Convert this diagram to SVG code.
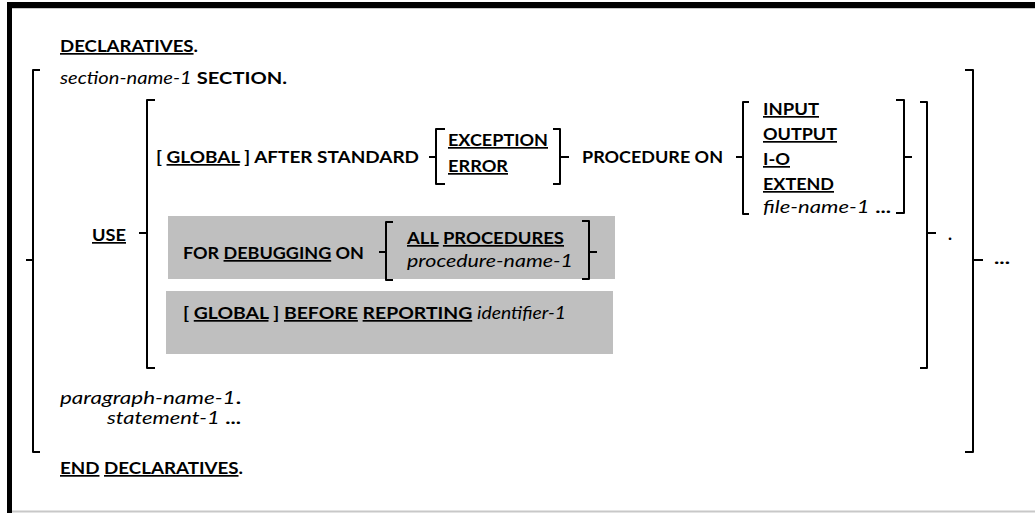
<svg xmlns="http://www.w3.org/2000/svg" width="1035" height="513" viewBox="0 0 1035 513">
<style>
text{font-family:Lato,"Liberation Sans",sans-serif;font-size:17px;fill:#000}
.b{font-weight:bold}
.i{font-style:italic;font-weight:normal}
.u{text-decoration:underline}
.br{fill:none;stroke:#000;stroke-width:2;stroke-linejoin:round}
.gray{fill:#bfbfbf}
</style>
<rect width="1035" height="513" fill="#fff"/>
<g id="frame">
<rect x="7" y="2" width="1028" height="6" fill="#000"/>
<rect x="7" y="2" width="5" height="511" fill="#000"/>
<line x1="12" y1="8.5" x2="1035" y2="8.5" stroke="#c8c8c8" stroke-width="1"/>
<line x1="12" y1="511.5" x2="1035" y2="511.5" stroke="#c8c8c8" stroke-width="2"/>
</g>
<g id="boxes">
<rect id="debug-box" class="gray" x="168" y="216" width="447" height="63"/>
<rect id="report-box" class="gray" x="166" y="291" width="447" height="63"/>
</g>
<g id="brackets">
<path class="br" d="M40,70 H33 V452 H40 M33,260 H26"/>
<path class="br" d="M155,100 H147 V368 H155 M147,233 H139"/>
<path class="br" d="M445,129 H436 V184 H445 M436,157 H429"/>
<path class="br" d="M553,129 H560 V184 H553 M560,157 H569"/>
<path class="br" d="M749,102 H743 V214 H749 M743,157 H736"/>
<path class="br" d="M896,100 H904 V213 H896 M904,157 H912"/>
<path class="br" d="M920,102 H927 V368 H920 M927,233 H936"/>
<path class="br" d="M965,70 H973 V452 H965 M973,260 H983"/>
<path class="br" d="M393,222 H386 V280 H393 M386,252 H379"/>
<path class="br" d="M582,221 H589 V279 H582 M589,252 H597"/>
</g>
<g id="texts">
<text id="t-decl" class="b" x="60" y="52" textLength="138" lengthAdjust="spacingAndGlyphs"><tspan class="u">DECLARATIVES</tspan>.</text>
<text id="t-section" x="60" y="84" textLength="227" lengthAdjust="spacingAndGlyphs"><tspan class="i">section-name-1</tspan> <tspan class="b">SECTION.</tspan></text>
<text id="t-use" class="b" x="92" y="241" textLength="34" lengthAdjust="spacingAndGlyphs"><tspan class="u">USE</tspan></text>
<text id="t-global" class="b" x="156" y="163" textLength="263" lengthAdjust="spacingAndGlyphs">[ <tspan class="u">GLOBAL</tspan> ] AFTER STANDARD</text>
<text id="t-exception" class="b u" x="448" y="146" textLength="100" lengthAdjust="spacingAndGlyphs">EXCEPTION</text>
<text id="t-error" class="b u" x="448" y="172" textLength="60" lengthAdjust="spacingAndGlyphs">ERROR</text>
<text id="t-procon" class="b" x="582" y="163" textLength="141" lengthAdjust="spacingAndGlyphs">PROCEDURE ON</text>
<text id="t-input" class="b u" x="763" y="115" textLength="56" lengthAdjust="spacingAndGlyphs">INPUT</text>
<text id="t-output" class="b u" x="763" y="140" textLength="74" lengthAdjust="spacingAndGlyphs">OUTPUT</text>
<text id="t-io" class="b u" x="763" y="165" textLength="27" lengthAdjust="spacingAndGlyphs">I-O</text>
<text id="t-extend" class="b u" x="763" y="190" textLength="71" lengthAdjust="spacingAndGlyphs">EXTEND</text>
<text id="t-file" x="763" y="213" textLength="128" lengthAdjust="spacingAndGlyphs"><tspan class="i">file-name-1</tspan> <tspan class="b">...</tspan></text>
<text id="t-for" class="b" x="183" y="259" textLength="181" lengthAdjust="spacingAndGlyphs">FOR <tspan class="u">DEBUGGING</tspan> ON</text>
<text id="t-all" class="b" x="407" y="244" textLength="157" lengthAdjust="spacingAndGlyphs"><tspan class="u">ALL</tspan> <tspan class="u">PROCEDURES</tspan></text>
<text id="t-procname" class="i" x="407" y="267" textLength="166" lengthAdjust="spacingAndGlyphs">procedure-name-1</text>
<text id="t-report" class="b" x="183" y="319" textLength="383" lengthAdjust="spacingAndGlyphs">[ <tspan class="u">GLOBAL</tspan> ] <tspan class="u">BEFORE</tspan> <tspan class="u">REPORTING</tspan> <tspan class="i">identifier-1</tspan></text>
<text id="t-dot" class="b" x="948" y="240">.</text>
<text id="t-ell" class="b" x="994" y="264" textLength="16" lengthAdjust="spacingAndGlyphs">...</text>
<text id="t-para" x="60" y="404" textLength="181" lengthAdjust="spacingAndGlyphs"><tspan class="i">paragraph-name-1</tspan><tspan class="b">.</tspan></text>
<text id="t-stmt" x="107" y="424" textLength="134" lengthAdjust="spacingAndGlyphs"><tspan class="i">statement-1</tspan> <tspan class="b">...</tspan></text>
<text id="t-end" class="b" x="60" y="474" textLength="183" lengthAdjust="spacingAndGlyphs"><tspan class="u">END</tspan> <tspan class="u">DECLARATIVES</tspan>.</text>
</g>
</svg>
